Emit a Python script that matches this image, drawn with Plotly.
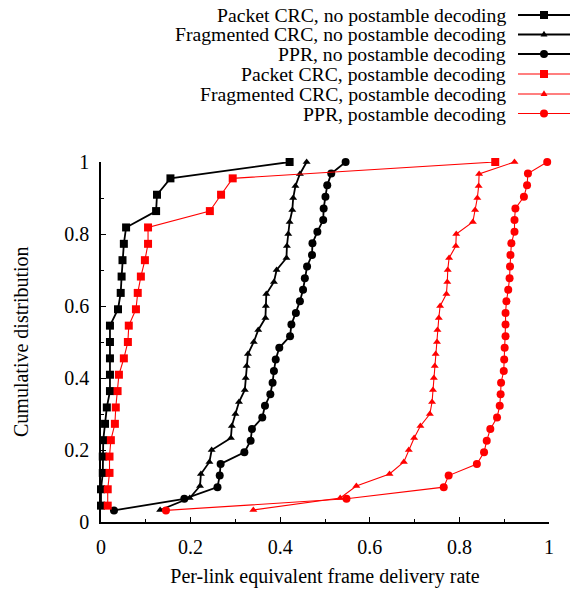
import plotly.graph_objects as go

# Per-link equivalent frame delivery rates, one value per link, in rank order
packet_crc_nopost = [0.0, 0.0, 0.004, 0.004, 0.005, 0.009, 0.013, 0.020, 0.020, 0.020,
                     0.020, 0.020, 0.038, 0.044, 0.046, 0.048, 0.051, 0.056, 0.123, 0.125,
                     0.155, 0.421]
frag_crc_nopost = [0.132, 0.198, 0.221, 0.223, 0.242, 0.247, 0.290, 0.292, 0.300, 0.308,
                   0.321, 0.323, 0.325, 0.328, 0.341, 0.351, 0.367, 0.368, 0.369, 0.386,
                   0.392, 0.414, 0.415, 0.418, 0.421, 0.427, 0.429, 0.434, 0.444, 0.459]
ppr_nopost = [0.029, 0.186, 0.260, 0.265, 0.267, 0.320, 0.334, 0.337, 0.360, 0.366,
              0.378, 0.383, 0.386, 0.390, 0.398, 0.422, 0.425, 0.435, 0.444, 0.451,
              0.455, 0.460, 0.471, 0.472, 0.483, 0.496, 0.497, 0.501, 0.505, 0.514, 0.546]
packet_crc_post = [0.015, 0.015, 0.019, 0.019, 0.022, 0.031, 0.033, 0.037, 0.040, 0.051,
                   0.060, 0.062, 0.078, 0.082, 0.089, 0.098, 0.105, 0.105, 0.243, 0.268,
                   0.294, 0.880]
frag_crc_post = [0.340, 0.534, 0.570, 0.644, 0.676, 0.687, 0.699, 0.713, 0.734, 0.739,
                 0.741, 0.743, 0.745, 0.747, 0.750, 0.751, 0.754, 0.757, 0.771, 0.773,
                 0.774, 0.777, 0.792, 0.793, 0.830, 0.835, 0.840, 0.843, 0.844, 0.923]
ppr_post = [0.145, 0.548, 0.765, 0.776, 0.839, 0.855, 0.861, 0.869, 0.884, 0.890,
            0.892, 0.893, 0.899, 0.900, 0.901, 0.903, 0.903, 0.903, 0.905, 0.909,
            0.912, 0.913, 0.914, 0.916, 0.923, 0.923, 0.925, 0.944, 0.951, 0.953, 0.996]

series_names = [
    "Packet CRC, no postamble decoding",
    "Fragmented CRC, no postamble decoding",
    "PPR, no postamble decoding",
    "Packet CRC, postamble decoding",
    "Fragmented CRC, postamble decoding",
    "PPR, postamble decoding",
]
series_values = [packet_crc_nopost, frag_crc_nopost, ppr_nopost,
                 packet_crc_post, frag_crc_post, ppr_post]

x_ticks = [0, 0.2, 0.4, 0.6, 0.8, 1]
x_tick_labels = ["0", "0.2", "0.4", "0.6", "0.8", "1"]
y_ticks = [0, 0.2, 0.4, 0.6, 0.8, 1]
y_tick_labels = ["0", "0.2", "0.4", "0.6", "0.8", "1"]

FONT = "Liberation Serif"
W, H = 574, 590
ML, MR, MT, MB = 101, 25, 162, 68

styles = [
    dict(color="black", width=1.8, symbol="square", size=8),
    dict(color="black", width=1.8, symbol="triangle-up", size=7),
    dict(color="black", width=1.8, symbol="circle", size=8),
    dict(color="#ff0000", width=1.1, symbol="square", size=8),
    dict(color="#ff0000", width=1.1, symbol="triangle-up", size=7),
    dict(color="#ff0000", width=1.1, symbol="circle", size=8),
]


def ecdf(values):
    """Empirical cumulative distribution levels for ranked samples."""
    n = len(values)
    return [(i + 1) / n for i in range(n)]


fig = go.Figure()

for name, vals, st in zip(series_names, series_values, styles):
    fig.add_trace(go.Scatter(
        x=vals, y=ecdf(vals), name=name, mode="lines+markers",
        line=dict(color=st["color"], width=st["width"]),
        marker=dict(symbol=st["symbol"], size=st["size"], color=st["color"],
                    line=dict(width=0)),
        cliponaxis=False, showlegend=False,
    ))

# Key block at the top right: right-aligned text followed by a line sample
key_text_right = 507
key_line_x = (518, 570)
key_row_y = [15, 34.5, 54, 74, 94, 113.5]


def px_to_paper_x(px):
    return (px - ML) / (W - ML - MR)


def px_to_paper_y(py):
    return (H - MB - py) / (H - MT - MB)


def key_marker(symbol, color, xa, ya, half):
    """Fixed-size glyph anchored at a paper position."""
    base = dict(xref="paper", yref="paper", xsizemode="pixel", ysizemode="pixel",
                xanchor=xa, yanchor=ya, fillcolor=color, line=dict(width=0))
    if symbol == "square":
        return dict(type="rect", x0=-half, x1=half, y0=-half, y1=half, **base)
    if symbol == "circle":
        return dict(type="circle", x0=-half, x1=half, y0=-half, y1=half, **base)
    h = half
    path = f"M {-h} {-h * 0.6} L {h} {-h * 0.6} L 0 {h * 1.1} Z"
    return dict(type="path", path=path, **base)


for name, st, py in zip(series_names, styles, key_row_y):
    fig.add_annotation(
        text=name, xref="paper", yref="paper",
        x=px_to_paper_x(key_text_right), y=px_to_paper_y(py),
        xanchor="right", yanchor="middle", showarrow=False, borderpad=0,
        font=dict(family=FONT, size=19.7, color="black"),
    )
    fig.add_shape(
        type="line", xref="paper", yref="paper",
        x0=px_to_paper_x(key_line_x[0]), x1=px_to_paper_x(key_line_x[1]),
        y0=px_to_paper_y(py), y1=px_to_paper_y(py),
        line=dict(color=st["color"], width=st["width"]),
    )
    half = 4 if st["symbol"] != "triangle-up" else 3.5
    fig.add_shape(key_marker(st["symbol"], st["color"],
                             px_to_paper_x((key_line_x[0] + key_line_x[1]) / 2),
                             px_to_paper_y(py), half))

# Vertical axis title, centred on the plotting area beside the tick labels
fig.add_annotation(
    text="Cumulative distribution", xref="paper", yref="paper",
    x=px_to_paper_x(21), y=0.5,
    xanchor="center", yanchor="middle", textangle=-90, showarrow=False,
    font=dict(family=FONT, size=20, color="black"),
)

axis_common = dict(
    showline=True, linecolor="black", linewidth=1.5,
    ticks="inside", ticklen=5, tickwidth=1, tickcolor="black",
    showgrid=False, zeroline=False, mirror=False, automargin=False,
    tickfont=dict(family=FONT, size=20, color="black"),
    minor=dict(ticks="inside", ticklen=3, tickwidth=1, tickcolor="black", dtick=0.1),
)

fig.update_layout(
    template="none",
    width=W, height=H,
    margin=dict(l=ML, r=MR, t=MT, b=MB, pad=0),
    paper_bgcolor="white", plot_bgcolor="white",
    font=dict(family=FONT, size=20, color="black"),
    xaxis=dict(
        range=[0, 1], tickvals=x_ticks, ticktext=x_tick_labels,
        title=dict(text="Per-link equivalent frame delivery rate",
                   font=dict(family=FONT, size=20, color="black"), standoff=12),
        ticklabelstandoff=6,
        **axis_common,
    ),
    yaxis=dict(
        range=[0, 1], tickvals=y_ticks, ticktext=y_tick_labels,
        ticklabelstandoff=6,
        **axis_common,
    ),
    showlegend=False,
)

fig.write_html("out.html")
